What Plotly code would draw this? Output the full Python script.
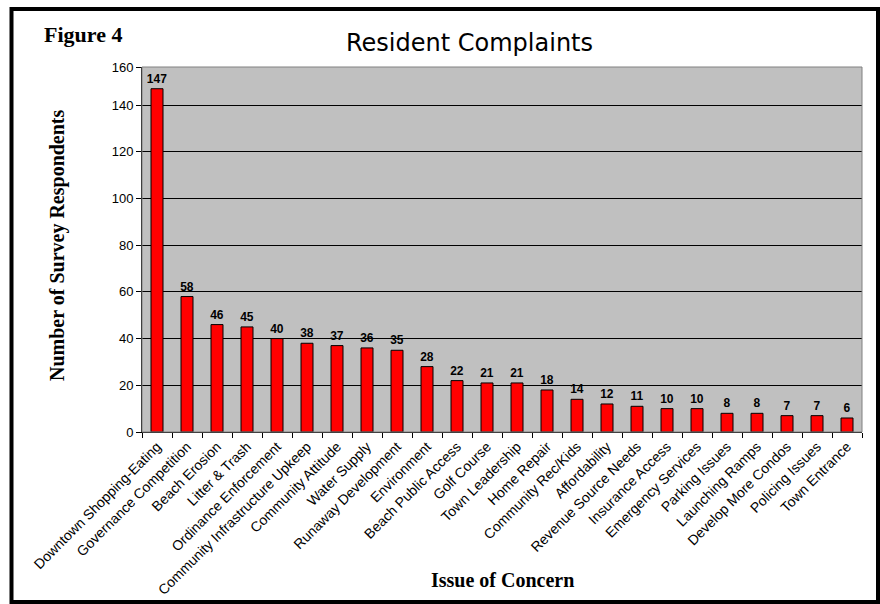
import plotly.graph_objects as go

categories = ["Downtown Shopping-Eating", "Governance Competition", "Beach Erosion", "Litter & Trash",
              "Ordinance Enforcement", "Community Infrastructure Upkeep", "Community Attitude",
              "Water Supply", "Runaway Development", "Environment", "Beach Public Access",
              "Golf Course", "Town Leadership", "Home Repair", "Community Rec/Kids", "Affordability",
              "Revenue Source Needs", "Insurance Access", "Emergency Services", "Parking Issues",
              "Launching Ramps", "Develop More Condos", "Policing Issues", "Town Entrance"]
values = [147, 58, 46, 45, 40, 38, 37, 36, 35, 28, 22, 21, 21, 18, 14, 12, 11, 10, 10, 8, 8, 7, 7, 6]
y_ticks = [0, 20, 40, 60, 80, 100, 120, 140]
y_top = 156.3          # top edge of the drawn plot area in the reference
y_top_label = "160"    # label printed at the top edge in the reference

W, H = 880, 604
L, R, T, B = 142, 862, 67, 432
pw, ph = R - L, B - T

def px(x):
    return (x - L) / pw

def py(y):
    return (B - y) / ph

fig = go.Figure(go.Bar(
    x=categories, y=values,
    marker=dict(color="#FF0000", line=dict(color="#000000", width=1)),
    text=values, textposition="outside", cliponaxis=False, constraintext="none",
    textfont=dict(family="Liberation Sans, Arial", size=12, color="black"),
    texttemplate="<b>%{text}</b>",
))

fig.update_layout(
    width=W, height=H,
    margin=dict(l=L, r=W - R, t=T, b=H - B),
    paper_bgcolor="white", plot_bgcolor="#C0C0C0",
    bargap=0.6, showlegend=False,
    font=dict(family="Liberation Sans, Arial", size=12, color="black"),
    shapes=[
        dict(type="rect", xref="paper", yref="paper", x0=px(11.5), x1=px(878), y0=py(9), y1=py(602),
             line=dict(color="black", width=4), fillcolor="rgba(0,0,0,0)", layer="below"),
        dict(type="rect", xref="paper", yref="paper", x0=0, x1=1, y0=0, y1=1,
             line=dict(color="#808080", width=1), fillcolor="rgba(0,0,0,0)"),
    ],
    annotations=[
        dict(text="<b>Figure 4</b>", xref="paper", yref="paper", x=px(42), y=py(35),
             xanchor="left", yanchor="middle", showarrow=False,
             font=dict(family="Liberation Serif, Times New Roman", size=22, color="black")),
        dict(text="Resident Complaints", xref="paper", yref="paper", x=px(469), y=py(43),
             xanchor="center", yanchor="middle", showarrow=False,
             font=dict(family="DejaVu Sans", size=24, color="black")),
        dict(text="<b>Number of Survey Respondents</b>", xref="paper", yref="paper", x=px(57), y=py(245),
             xanchor="center", yanchor="middle", showarrow=False, textangle=-90,
             font=dict(family="Liberation Serif, Times New Roman", size=20, color="black")),
        dict(text="<b>Issue of Concern</b>", xref="paper", yref="paper", x=px(502), y=py(580),
             xanchor="center", yanchor="middle", showarrow=False,
             font=dict(family="Liberation Serif, Times New Roman", size=20, color="black")),
    ],
)

fig.update_xaxes(
    tickangle=-45, tickson="boundaries", ticks="outside", ticklen=5, tickcolor="black",
    showline=True, linecolor="black", linewidth=1, showgrid=False, automargin=False,
    tickfont=dict(family="Liberation Sans, Arial", size=14, color="black"),
)
fig.update_yaxes(
    range=[0, y_top],
    tickvals=y_ticks + [y_top], ticktext=[str(v) for v in y_ticks] + [y_top_label],
    ticks="outside", ticklen=5, tickcolor="black",
    showline=True, linecolor="black", linewidth=1, showgrid=True, gridcolor="black", gridwidth=1,
    zeroline=False, automargin=False,
    tickfont=dict(family="Liberation Sans, Arial", size=13, color="black"),
)

fig.write_html("out.html")
